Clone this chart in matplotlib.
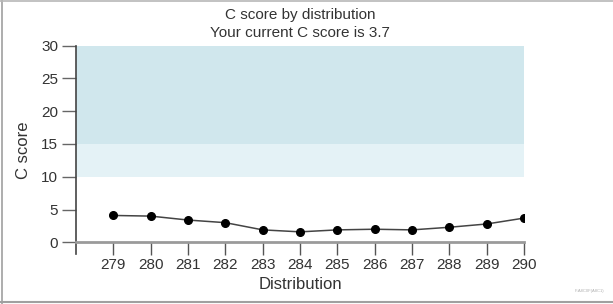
import matplotlib

matplotlib.use("Agg")
import matplotlib.pyplot as plt  # noqa: E402
from matplotlib.lines import Line2D  # noqa: E402

plt.rcParams["font.family"] = ["Liberation Sans", "DejaVu Sans"]

# distribution numbers and the C score at each
distributions = [279, 280, 281, 282, 283, 284, 285, 286, 287, 288, 289, 290]
c_scores = [4.1, 4.0, 3.4, 3.0, 1.9, 1.6, 1.9, 2.0, 1.9, 2.3, 2.8, 3.7]
current_score = 3.7

# shaded reference bands (low, high)
band_upper = (15, 30)
band_lower = (10, 15)
y_ticks = [0, 5, 10, 15, 20, 25, 30]

TEXT = "#333333"

fig = plt.figure(figsize=(6.13, 3.04), dpi=100)
ax = fig.add_axes((0.124, 0.164, 0.731, 0.686))

x0, x1 = distributions[0] - 1, distributions[-1]
ax.fill_between([x0, x1], *band_upper, color="#d0e7ed", lw=0, zorder=0)
ax.fill_between([x0, x1], *band_lower, color="#e4f2f6", lw=0, zorder=0)

ax.plot(distributions, c_scores, color="#444444", lw=1.1, marker="o",
        markersize=5.5, markerfacecolor="black", markeredgecolor="black", zorder=3)

ax.set_xlim(x0, x1)
ax.set_ylim(-1.8, 30)
ax.set_xticks(distributions)
ax.set_yticks(y_ticks)

for s in ("top", "right"):
    ax.spines[s].set_visible(False)
ax.spines["bottom"].set_position(("data", 0))
ax.spines["bottom"].set_color("#9a9a9a")
ax.spines["bottom"].set_linewidth(2)
ax.spines["left"].set_color("#444444")
ax.spines["left"].set_linewidth(1.2)

ax.tick_params(axis="y", direction="out", length=10, width=1, color="#666666",
               pad=3, labelsize=11, labelcolor=TEXT)
ax.tick_params(axis="x", direction="out", length=9, width=1, color="#555555",
               pad=2, labelsize=11, labelcolor=TEXT)

ax.set_xlabel("Distribution", fontsize=12, color=TEXT, labelpad=4)
ax.set_ylabel("C score", fontsize=12, color=TEXT, labelpad=7)

fig.text(0.49, 0.950, "C score by distribution", ha="center", va="center",
         fontsize=11, color=TEXT)
fig.text(0.49, 0.892, f"Your current C score is {current_score}", ha="center",
         va="center", fontsize=11, color=TEXT)

fig.text(0.985, 0.042, "F-A8C0F(A8C1)", ha="right", va="center", fontsize=3,
         color="#b0b0b0")

# frame around the picture (left, top, bottom)
fig.add_artist(Line2D([0.0025, 0.0025], [0, 1], transform=fig.transFigure,
                      color="#a0a0a0", lw=1.2))
fig.add_artist(Line2D([0, 1], [0.998, 0.998], transform=fig.transFigure,
                      color="#b8b8b8", lw=1.2))
fig.add_artist(Line2D([0, 1], [0.008, 0.008], transform=fig.transFigure,
                      color="#a0a0a0", lw=1.5))

fig.savefig("out.png", dpi=100)
